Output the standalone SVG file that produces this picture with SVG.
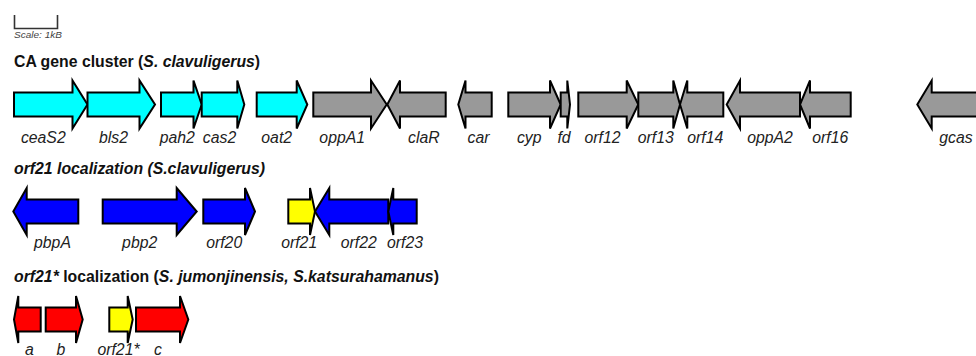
<svg xmlns="http://www.w3.org/2000/svg" width="976" height="356" viewBox="0 0 976 356">
  <style>
    .gene { stroke: #000; stroke-width: 2; stroke-linejoin: miter; }
    .cyan { fill: #00ffff; }
    .gray { fill: #999999; }
    .blue { fill: #0000ff; }
    .red { fill: #ff0000; }
    .yellow { fill: #ffff00; }
    .lbl { font-family: "Liberation Sans", Arial, sans-serif; font-size: 15.8px; font-style: italic; fill: #222; text-anchor: middle; }
    .title { font-family: "Liberation Sans", Arial, sans-serif; font-size: 15.8px; font-weight: bold; fill: #111; }
    .scale { stroke: #333; stroke-width: 1.6; fill: none; }
    .scaletxt { font-family: "Liberation Sans", Arial, sans-serif; font-size: 8.5px; font-style: italic; fill: #444; }
  </style>

  <!-- scale bar: 1 kB = 43 px -->
  <g id="scale-bar">
    <polyline class="scale" points="14.5,15 14.5,28.5 57.5,28.5 57.5,15"/>
    <text class="scaletxt" x="14" y="37.7" textLength="48" lengthAdjust="spacingAndGlyphs">Scale: 1kB</text>
  </g>

  <!-- track 1: CA gene cluster -->
  <text class="title" x="14" y="66.5">CA gene cluster (<tspan font-style="italic">S. clavuligerus</tspan>)</text>

  <g id="ceaS2"><polygon class="gene cyan" points="14,92.5 72.5,92.5 72.5,80.5 87.5,104.5 72.5,128.5 72.5,116.5 14,116.5"/><text class="lbl" x="43.3" y="142.5">ceaS2</text></g>
  <g id="bls2"><polygon class="gene cyan" points="87.5,92.5 139.5,92.5 139.5,80.5 155,104.5 139.5,128.5 139.5,116.5 87.5,116.5"/><text class="lbl" x="113.5" y="142.5">bls2</text></g>
  <g id="pah2"><polygon class="gene cyan" points="161,92.5 193.5,92.5 193.5,80.5 201.7,104.5 193.5,128.5 193.5,116.5 161,116.5"/><text class="lbl" x="177.3" y="142.5">pah2</text></g>
  <g id="cas2"><polygon class="gene cyan" points="201.7,92.5 237.3,92.5 237.3,80.5 244.3,104.5 237.3,128.5 237.3,116.5 201.7,116.5"/><text class="lbl" x="219.5" y="142.5">cas2</text></g>
  <g id="oat2"><polygon class="gene cyan" points="256.7,92.5 296.7,92.5 296.7,80.5 307.3,104.5 296.7,128.5 296.7,116.5 256.7,116.5"/><text class="lbl" x="276.7" y="142.5">oat2</text></g>
  <g id="oppA1"><polygon class="gene gray" points="313.3,92.5 371,92.5 371,80.5 386.7,104.5 371,128.5 371,116.5 313.3,116.5"/><text class="lbl" x="342.2" y="142.5">oppA1</text></g>
  <g id="claR"><polygon class="gene gray" points="445.7,92.5 400,92.5 400,80.5 387.3,104.5 400,128.5 400,116.5 445.7,116.5"/><text class="lbl" x="423.9" y="142.5">claR</text></g>
  <g id="car"><polygon class="gene gray" points="491.7,92.5 465.5,92.5 465.5,80.5 458.3,104.5 465.5,128.5 465.5,116.5 491.7,116.5"/><text class="lbl" x="478.6" y="142.5">car</text></g>
  <g id="cyp"><polygon class="gene gray" points="508.3,92.5 550,92.5 550,80.5 560.7,104.5 550,128.5 550,116.5 508.3,116.5"/><text class="lbl" x="529.2" y="142.5">cyp</text></g>
  <g id="fd"><polygon class="gene gray" points="560.7,92.5 567.3,92.5 567.3,80.5 570,104.5 567.3,128.5 567.3,116.5 560.7,116.5"/><text class="lbl" x="564" y="142.5">fd</text></g>
  <g id="orf12"><polygon class="gene gray" points="578.3,92.5 626.7,92.5 626.7,80.5 638.3,104.5 626.7,128.5 626.7,116.5 578.3,116.5"/><text class="lbl" x="602.5" y="142.5">orf12</text></g>
  <g id="orf13"><polygon class="gene gray" points="638.3,92.5 673.3,92.5 673.3,80.5 680,104.5 673.3,128.5 673.3,116.5 638.3,116.5"/><text class="lbl" x="655.8" y="142.5">orf13</text></g>
  <g id="orf14"><polygon class="gene gray" points="723.3,92.5 687.3,92.5 687.3,80.5 680,104.5 687.3,128.5 687.3,116.5 723.3,116.5"/><text class="lbl" x="705.3" y="142.5">orf14</text></g>
  <g id="oppA2"><polygon class="gene gray" points="800,92.5 740,92.5 740,80.5 726.7,104.5 740,128.5 740,116.5 800,116.5"/><text class="lbl" x="770" y="142.5">oppA2</text></g>
  <g id="orf16"><polygon class="gene gray" points="850.7,92.5 810,92.5 810,80.5 800,104.5 810,128.5 810,116.5 850.7,116.5"/><text class="lbl" x="830.3" y="142.5">orf16</text></g>
  <g id="gcas"><polygon class="gene gray" points="981,92.5 931.7,92.5 931.7,80.5 917.3,104.5 931.7,128.5 931.7,116.5 981,116.5"/><text class="lbl" x="956" y="142.5">gcas</text></g>

  <!-- track 2: orf21 neighbourhood -->
  <text class="title" x="14" y="174" font-style="italic">orf21 localization (S.clavuligerus)</text>

  <g id="pbpA"><polygon class="gene blue" points="78.3,199.5 26.7,199.5 26.7,188 13.3,211.5 26.7,235 26.7,223.5 78.3,223.5"/><text class="lbl" x="52.5" y="247.5">pbpA</text></g>
  <g id="pbp2"><polygon class="gene blue" points="102.7,199.5 176.7,199.5 176.7,188 196.7,211.5 176.7,235 176.7,223.5 102.7,223.5"/><text class="lbl" x="139.7" y="247.5">pbp2</text></g>
  <g id="orf20"><polygon class="gene blue" points="203.3,199.5 245,199.5 245,188 255,211.5 245,235 245,223.5 203.3,223.5"/><text class="lbl" x="224.2" y="247.5">orf20</text></g>
  <g id="orf21"><polygon class="gene yellow" points="288.3,199.5 310,199.5 310,188 315,211.5 310,235 310,223.5 288.3,223.5"/><text class="lbl" x="299.2" y="247.5">orf21</text></g>
  <g id="orf22"><polygon class="gene blue" points="388.3,199.5 329.3,199.5 329.3,188 315,211.5 329.3,235 329.3,223.5 388.3,223.5"/><text class="lbl" x="358.8" y="247.5">orf22</text></g>
  <g id="orf23"><polygon class="gene blue" points="416.7,199.5 393.3,199.5 393.3,188 388.3,211.5 393.3,235 393.3,223.5 416.7,223.5"/><text class="lbl" x="405" y="247.5">orf23</text></g>

  <!-- track 3: orf21* neighbourhood -->
  <text class="title" x="14" y="282"><tspan font-style="italic">orf21*</tspan> localization (<tspan font-style="italic">S. jumonjinensis, S.katsurahamanus</tspan>)</text>

  <g id="a"><polygon class="gene red" points="40.7,307.5 18.3,307.5 18.3,296 14,319.5 18.3,343 18.3,331.5 40.7,331.5"/><text class="lbl" x="29.5" y="355">a</text></g>
  <g id="b"><polygon class="gene red" points="45.7,307.5 76,307.5 76,296 82.7,319.5 76,343 76,331.5 45.7,331.5"/><text class="lbl" x="60.9" y="355">b</text></g>
  <g id="orf21star"><polygon class="gene yellow" points="109.3,307.5 127.7,307.5 127.7,296 132.7,319.5 127.7,343 127.7,331.5 109.3,331.5"/><text class="lbl" x="118.5" y="355">orf21*</text></g>
  <g id="c"><polygon class="gene red" points="136,307.5 180,307.5 180,296 188.3,319.5 180,343 180,331.5 136,331.5"/><text class="lbl" x="158" y="355">c</text></g>
</svg>
